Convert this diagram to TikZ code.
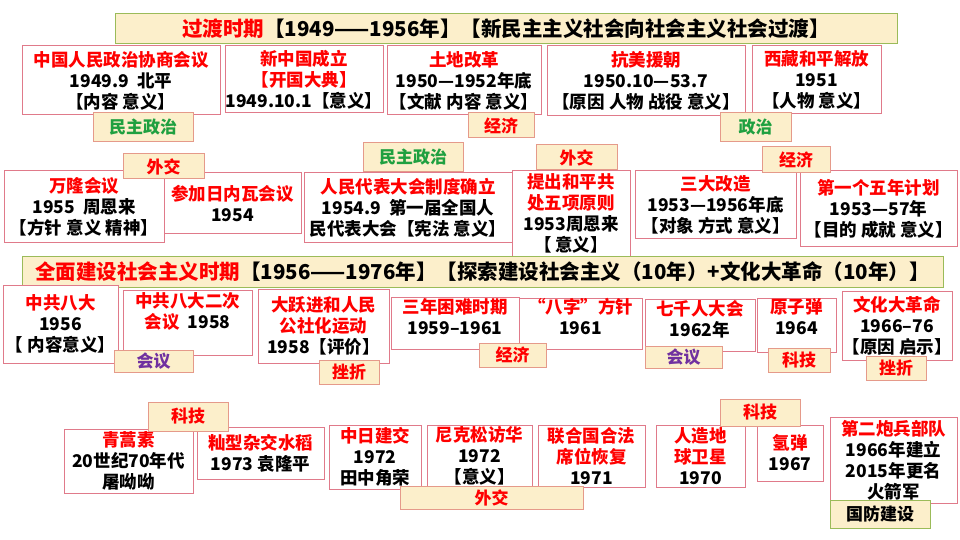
\documentclass[tikz,border=0pt]{standalone}
\usepackage{fontspec}
\setmainfont{Noto Sans CJK SC}[BoldFont={Noto Sans CJK SC Black}]
\definecolor{bd}{HTML}{E07A8A}
\definecolor{tg}{HTML}{FCEFCB}
\definecolor{tgb}{HTML}{E59A8A}
\definecolor{gb}{HTML}{9BBB59}
\definecolor{rd}{HTML}{FF0000}
\definecolor{gn}{HTML}{1FA040}
\definecolor{pu}{HTML}{7030A0}
\tikzset{
 box/.style={draw=bd,fill=white,line width=1pt,inner sep=0pt,align=center,font=\bfseries\fontsize{17.5}{21}\selectfont},
 tag/.style={draw=tgb,fill=tg,line width=1pt,inner sep=0pt,align=center,font=\bfseries\fontsize{17}{18}\selectfont},
 ttl/.style={draw=gb,fill=tg,line width=1pt,inner sep=0pt,align=center,font=\bfseries\fontsize{20.5}{22}\selectfont}
}
\newcommand\Bx[7]{\node[#1,minimum width={(#5-#3)*1pt},minimum height={(#6-#4)*1pt}] (#2) at ({(#3+#5)/2},{(#4+#6)/2}) {#7};}
\newcommand\R[1]{\textcolor{rd}{#1}}
\begin{document}
\begin{tikzpicture}[x=1pt,y=-1pt]
\useasboundingbox (0,0) rectangle (960,540);
\Bx{ttl}{t1}{115}{14}{897}{44}{\R{过渡时期}【1949——1956年】【新民主主义社会向社会主义社会过渡】}
% row 1
\Bx{box}{a1}{22}{46}{220}{115}{\R{中国人民政治协商会议}\\1949.9\ \ 北平\\【内容 意义】}
\Bx{box}{a2}{225}{46}{383}{113}{\R{新中国成立}\\\R{【开国大典】}\\1949.10.1【意义】}
\Bx{box}{a3}{387}{46}{541}{115}{\R{土地改革}\\1950—1952年底\\【文献 内容 意义】}
\Bx{box}{a4}{547}{46}{745}{116}{\R{抗美援朝}\\1950.10—53.7\\【原因 人物 战役 意义】}
\Bx{box}{a5}{752}{46}{881}{114}{\R{西藏和平解放}\\1951\\【人物 意义】}
\Bx{tag}{g1}{93}{113}{193}{142}{\textcolor{gn}{民主政治}}
\Bx{tag}{g2}{468}{113}{534}{138}{\R{经济}}
\Bx{tag}{g3}{720}{113}{791}{142}{\textcolor{gn}{政治}}
% row 2
\Bx{box}{b1}{4}{171}{164}{242}{\R{万隆会议}\\1955\ \ 周恩来\\【方针 意义 精神】}
\Bx{box}{b2}{164}{173}{301}{233}{\R{参加日内瓦会议}\\1954}
\Bx{box}{b3}{304}{173}{512}{242}{\R{人民代表大会制度确立}\\1954.9\ \ 第一届全国人\\民代表大会【宪法 意义】}
\Bx{box}{b4}{512}{171}{630}{256}{\R{提出和平共}\\\R{处五项原则}\\1953周恩来\\【 意义】}
\Bx{box}{b5}{635}{171}{796}{238}{\R{三大改造}\\1953—1956年底\\【对象 方式 意义】}
\Bx{box}{b6}{800}{171}{957}{246}{\R{第一个五年计划}\\1953—57年\\【目的 成就 意义】}
\Bx{tag}{h1}{123}{154}{204}{179}{\R{外交}}
\Bx{tag}{h2}{363}{143}{463}{172}{\textcolor{gn}{民主政治}}
\Bx{tag}{h3}{536}{145}{617}{170}{\R{外交}}
\Bx{tag}{h4}{762}{147}{830}{173}{\R{经济}}
% title 2
\Bx{ttl}{t2}{22}{256}{943}{287}{\R{全面建设社会主义时期}【1956——1976年】【探索建设社会主义（10年）+文化大革命（10年）】}
% row 3
\Bx{box}{c1}{3}{285}{118}{363}{\R{中共八大}\\1956\\【 内容意义】}
\Bx{box}{c2}{123}{290}{252}{355}{\R{中共八大二次}\\\R{会议}\ \ 1958\\[2pt]}
\Bx{box}{c3}{258}{289}{389}{363}{\R{大跃进和人民}\\\R{公社化运动}\\1958【评价】}
\Bx{box}{c4}{391}{299}{519}{348}{\R{三年困难时期}\\1959–1961\\[-6pt]}
\Bx{box}{c5}{519}{299}{642}{349}{\R{“八字”方针}\\1961\\[-6pt]}
\Bx{box}{c6}{645}{301}{755}{350}{\R{七千人大会}\\1962年\\[-6pt]}
\Bx{box}{c7}{757}{298}{836}{352}{\R{原子弹}\\1964\\[-4pt]}
\Bx{box}{c8}{842}{291}{952}{360}{\R{文化大革命}\\1966–76\\【原因 启示】}
\Bx{tag}{k1}{114}{350}{193}{372}{\textcolor{pu}{会议}}
\Bx{tag}{k2}{319}{360}{379}{384}{\R{挫折}}
\Bx{tag}{k3}{479}{343}{546}{367}{\R{经济}}
\Bx{tag}{k4}{645}{346}{722}{368}{\textcolor{pu}{会议}}
\Bx{tag}{k5}{768}{348}{830}{372}{\R{科技}}
\Bx{tag}{k6}{866}{356}{926}{380}{\R{挫折}}
% row 4
\Bx{box}{d1}{64}{429}{193}{493}{\R{青蒿素}\\20世纪70年代\\屠呦呦}
\Bx{box}{d2}{197}{427}{324}{479}{\R{籼型杂交水稻}\\1973 袁隆平}
\Bx{box}{d3}{329}{425}{421}{489}{\R{中日建交}\\1972\\田中角荣}
\Bx{box}{d4}{427}{425}{532}{487}{\R{尼克松访华}\\1972\\【意义】}
\Bx{box}{d5}{538}{425}{645}{487}{\R{联合国合法}\\\R{席位恢复}\\1971}
\Bx{box}{d6}{656}{425}{745}{487}{\R{人造地}\\\R{球卫星}\\1970}
\Bx{box}{d7}{757}{425}{823}{481}{\R{氢弹}\\1967}
\Bx{box}{d8}{830}{417}{957}{503}{\R{第二炮兵部队}\\1966年建立\\2015年更名\\火箭军}
\Bx{tag}{m1}{148}{402}{228}{431}{\R{科技}}
\Bx{tag}{m2}{400}{486}{583}{509}{\R{外交}}
\Bx{tag}{m3}{720}{399}{800}{426}{\R{科技}}
\node[tag,draw=gb,minimum width=100pt,minimum height=28pt] (m4) at (880,514) {国防建设};
\end{tikzpicture}
\end{document}
